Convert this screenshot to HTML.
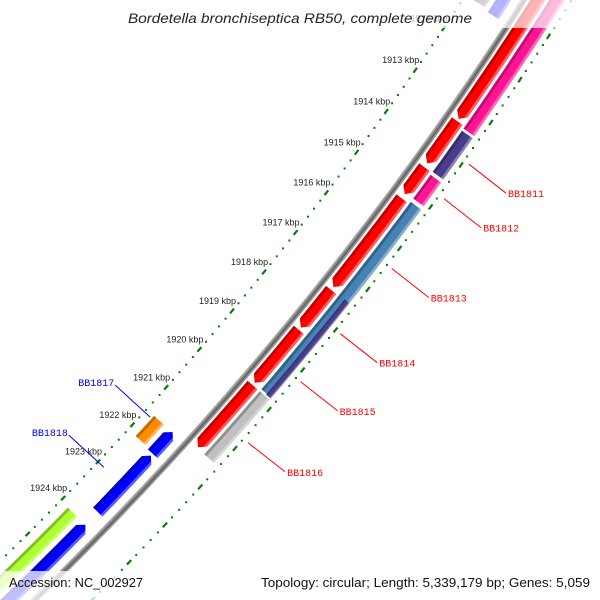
<!DOCTYPE html>
<html><head><meta charset="utf-8"><style>
html,body{margin:0;padding:0;background:#fff;width:600px;height:600px;overflow:hidden;}
svg{display:block;}
</style></head><body>
<svg id="map" width="600" height="600" viewBox="0 0 600 600" xmlns="http://www.w3.org/2000/svg" overflow="hidden">
<rect x="0" y="0" width="600" height="600" fill="#fff"/>
<g id="rings"></g>
<g id="feats"></g>
<g id="labels"></g>
<rect x="0" y="0" width="600" height="28" fill="#fff" opacity="0.7"/>
<rect x="0" y="571" width="600" height="29" fill="#fff" opacity="0.75"/>
<text x="300" y="23" text-anchor="middle" font-family="Liberation Sans, sans-serif" font-style="italic" font-size="14" fill="#222" textLength="344" lengthAdjust="spacingAndGlyphs">Bordetella bronchiseptica RB50, complete genome</text>
<text x="9" y="587" font-family="Liberation Sans, sans-serif" font-size="13" fill="#111" textLength="134" lengthAdjust="spacingAndGlyphs">Accession: NC_002927</text>
<text x="590" y="587" text-anchor="end" font-family="Liberation Sans, sans-serif" font-size="13" fill="#111" textLength="329" lengthAdjust="spacingAndGlyphs">Topology: circular; Length: 5,339,179 bp; Genes: 5,059</text>
</svg>
<script>
// ---- data ----
var tickKbp = [1910,1911,1912,1913,1914,1915,1916,1917,1918,1919,1920,1921,1922,1923,1924];
var tickLabels = ["1910 kbp","1911 kbp","1912 kbp","1913 kbp","1914 kbp","1915 kbp","1916 kbp","1917 kbp","1918 kbp","1919 kbp","1920 kbp","1921 kbp","1922 kbp","1923 kbp","1924 kbp"];
var featStart = [1909.0,1913.35,1914.45,1915.2,1917.45,1918.45,1919.85, 1909.0,1913.45,1914.5,1915.15,1917.43,1919.85, 1909.0,1921.57,1922.2,1924.07, 1909.0,1921.58,1924.07];
var featEnd   = [1913.3,1914.36,1915.1,1917.38,1918.39,1919.79,1921.46, 1913.4,1914.43,1915.07,1919.8,1919.82,1921.48, 1911.25,1922.15,1923.72,1927.0, 1911.2,1922.12,1927.0];
var featTrack = ["r","r","r","r","r","r","r", "t2","t2","t2","t2","t2h","t2", "a","a","a","a", "b","b","b"];
var featStrand= [1,1,1,1,1,1,1, 0,0,0,0,0,0, -1,-1,-1,-1, 0,0,0];
var featColor = ["#ff0000","#ff0000","#ff0000","#ff0000","#ff0000","#ff0000","#ff0000",
 "#ff1493","#483d8b","#ff1493","#4682b4","#483d8b","#c0c0c0",
 "#0000ff","#0000ff","#0000ff","#0000ff",
 "#666666","#ff8c00","#adff2f"];
var geneNames = ["BB1811","BB1812","BB1813","BB1814","BB1815","BB1816","BB1817","BB1818"];
var genePos   = [1913.9,1914.72,1916.4,1918.0,1919.2,1920.75,1921.65,1923.0];
var geneColor = ["red","red","red","red","red","red","blue","blue"];

// ---- geometry ----
var CX=-2311, CY=-1814, R0=3366, A0=34.65, DEG_PER_KBP=0.872;
var tracks = {r:[5,18], t2:[21,34], t2h:[28,34], a:[-24,-11], b:[-42,-29]};
var NS="http://www.w3.org/2000/svg";
function pt(p,off){var t=(A0+(p-1913)*DEG_PER_KBP)*Math.PI/180;var r=R0+off;return [CX+r*Math.cos(t),CY+r*Math.sin(t)];}
function mk(tag,attrs,parent){var e=document.createElementNS(NS,tag);for(var k in attrs)e.setAttribute(k,attrs[k]);parent.appendChild(e);return e;}
var rings=document.getElementById('rings'),feats=document.getElementById('feats'),labels=document.getElementById('labels');

// backbone
(function(){
  var offs=[[-2.5,"#aaaaaa"],[-1,"#808080"],[0.5,"#606060"],[2,"#959595"]];
  offs.forEach(function(o){
    var d="";for(var p=1908;p<=1928;p+=0.25){var q=pt(p,o[0]);d+=(d?"L":"M")+q[0].toFixed(1)+","+q[1].toFixed(1);}
    var e=mk('path',{d:d,fill:"none",stroke:o[1],"stroke-width":1.7},rings);
    
    
  });
})();

// tick rings
function ring(off,name){
  var i0=Math.round(1908*5),i1=Math.round(1928*5);
  for(var i=i0;i<=i1;i++){
    var p=i/5;
    if(i%5===0){
      var a=pt(p-0.06,off),b=pt(p+0.06,off);
      var e=mk('line',{x1:a[0],y1:a[1],x2:b[0],y2:b[1],stroke:"#008000","stroke-width":2.2},rings);
      
      
    }else{
      var c=pt(p,off);
      var e2=mk('rect',{x:c[0]-1,y:c[1]-1,width:2,height:2,fill:"#008000"},rings);
      
      
    }
  }
}
ring(-52,'inner-ring');
ring(40,'outer-ring');
tickKbp.forEach(function(k,i){
  var c=pt(k,-52);
  var t=mk('text',{x:c[0]+4,y:c[1]-7,"text-anchor":"end","font-family":"Liberation Sans, sans-serif","font-size":9,fill:"#222"},labels);
  t.textContent=tickLabels[i];
  
  
});

// features
function outline(p1,p2,r1,r2,strand,ra,rb){
  var rm=(r1+r2)/2,hw=(r2-r1)/2,head=strand?0.13:0;
  var n=16,pts=[];
  function endAt(r){return strand===1?p2-head*Math.min(1,Math.abs(r-rm)/hw):p2;}
  function startAt(r){return strand===-1?p1+head*Math.min(1,Math.abs(r-rm)/hw):p1;}
  var steps=8,rs=[];for(var j=0;j<=steps;j++)rs.push(ra+(rb-ra)*j/steps);
  if(rm>ra&&rm<rb){rs.push(rm);rs.sort(function(x,y){return x-y;});}
  var s=startAt(ra),e=endAt(ra);
  for(var k=0;k<=n;k++)pts.push(pt(s+(e-s)*k/n,ra));
  rs.forEach(function(r){pts.push(pt(endAt(r),r));});
  s=startAt(rb);e=endAt(rb);
  for(var k2=n;k2>=0;k2--)pts.push(pt(s+(e-s)*k2/n,rb));
  rs.slice().reverse().forEach(function(r){pts.push(pt(startAt(r),r));});
  return pts.map(function(q){return q[0].toFixed(1)+","+q[1].toFixed(1);}).join(" ");
}
featStart.forEach(function(s,i){
  var tr=tracks[featTrack[i]],r1=tr[0],r2=tr[1],w=r2-r1,st=featStrand[i];
  var g=mk('g',{},feats);
  
  
  mk('polygon',{points:outline(s,featEnd[i],r1,r2,st,r1,r2),fill:featColor[i]},g);
  mk('polygon',{points:outline(s,featEnd[i],r1,r2,st,r1,r1+w*0.22),fill:"#000",opacity:0.25},g);
  mk('polygon',{points:outline(s,featEnd[i],r1,r2,st,r2-w*0.2,r2),fill:"#fff",opacity:0.35},g);
});

// gene labels
geneNames.forEach(function(nm,i){
  var g=mk('g',{},labels);
  
  
  var a,b,t;
  if(geneColor[i]==="red"){
    a=pt(genePos[i],46);b=[a[0]+37,a[1]+29];
    mk('line',{x1:a[0],y1:a[1],x2:b[0],y2:b[1],stroke:"red","stroke-width":1},g);
    t=mk('text',{x:b[0]+2,y:b[1]+4,"font-family":"Liberation Mono, monospace","font-size":10,fill:"red"},g);
  }else{
    a=pt(genePos[i],-44);b=[a[0]-35,a[1]-32];
    mk('line',{x1:a[0],y1:a[1],x2:b[0],y2:b[1],stroke:"blue","stroke-width":1},g);
    t=mk('text',{x:b[0]-1,y:b[1]+1,"text-anchor":"end","font-family":"Liberation Mono, monospace","font-size":10,fill:"blue"},g);
  }
  t.textContent=nm;
});
</script>
</body></html>
